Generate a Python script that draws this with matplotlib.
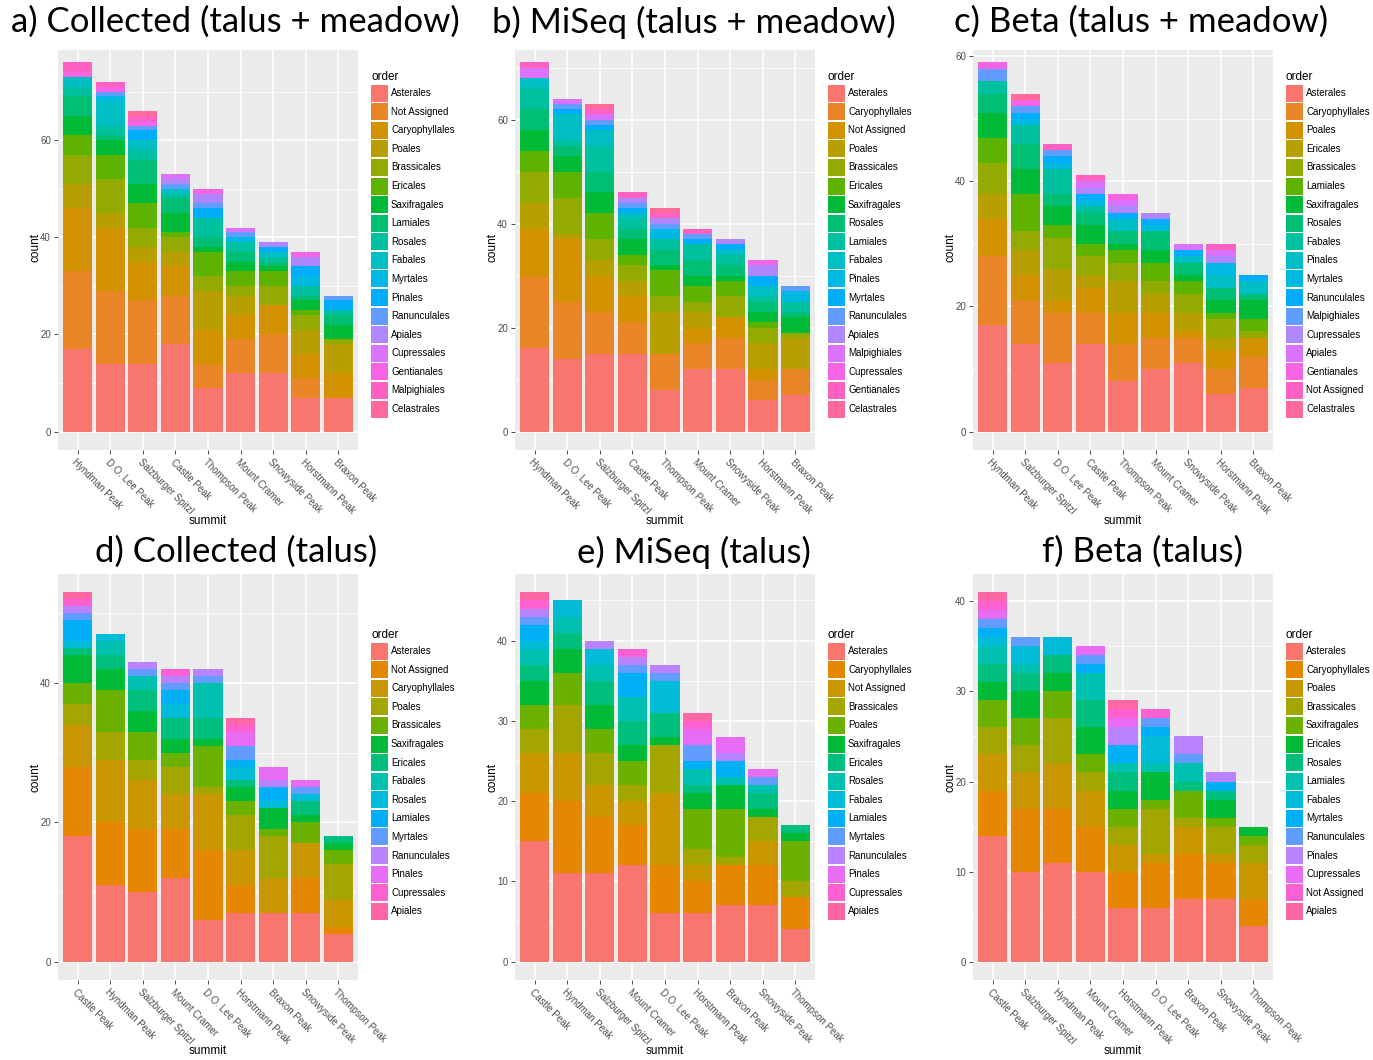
import numpy as np
import matplotlib
matplotlib.use("Agg")
import matplotlib.pyplot as plt
from matplotlib.patches import Patch, Rectangle
from matplotlib.ticker import MultipleLocator

plt.rcParams['font.family'] = ['Liberation Sans', 'DejaVu Sans']

# ---- data: counts per order (rows) for each summit (columns) ----
a_summits = ["Hyndman Peak", "D.O. Lee Peak", "Salzburger Spitzl", "Castle Peak", "Thompson Peak",
             "Mount Cramer", "Snowyside Peak", "Horstmann Peak", "Braxon Peak"]
a_orders = ["Asterales", "Not Assigned", "Caryophyllales", "Poales", "Brassicales", "Ericales",
            "Saxifragales", "Lamiales", "Rosales", "Fabales", "Myrtales", "Pinales", "Ranunculales",
            "Apiales", "Cupressales", "Gentianales", "Malpighiales", "Celastrales"]
a_counts = [[17, 14, 14, 18, 9, 12, 12, 7, 7],
            [16, 15, 13, 10, 5, 7, 8, 4, 0],
            [13, 13, 8, 6, 7, 5, 6, 5, 5],
            [5, 3, 3, 3, 8, 4, 0, 5, 6],
            [6, 7, 4, 3, 3, 2, 4, 3, 1],
            [4, 5, 5, 1, 5, 3, 3, 1, 0],
            [4, 3, 4, 4, 1, 2, 1, 2, 3],
            [4, 1, 5, 3, 2, 2, 1, 1, 2],
            [2, 2, 2, 1, 4, 2, 1, 2, 1],
            [2, 5, 2, 1, 0, 0, 1, 0, 0],
            [0, 1, 0, 0, 0, 1, 0, 2, 0],
            [0, 0, 2, 0, 2, 0, 1, 2, 2],
            [0, 1, 1, 1, 1, 1, 0, 0, 1],
            [0, 0, 0, 1, 2, 0, 1, 2, 0],
            [0, 0, 0, 1, 0, 1, 0, 0, 0],
            [1, 1, 1, 0, 1, 0, 0, 1, 0],
            [2, 1, 1, 0, 0, 0, 0, 0, 0],
            [0, 0, 1, 0, 0, 0, 0, 0, 0]]

b_summits = a_summits
b_orders = ["Asterales", "Caryophyllales", "Not Assigned", "Poales", "Brassicales", "Ericales",
            "Saxifragales", "Rosales", "Lamiales", "Fabales", "Pinales", "Myrtales", "Ranunculales",
            "Apiales", "Malpighiales", "Cupressales", "Gentianales", "Celastrales"]
b_counts = [[16, 14, 15, 15, 8, 12, 12, 6, 7],
            [14, 11, 8, 6, 7, 5, 6, 4, 5],
            [9, 12, 7, 5, 0, 3, 4, 2, 0],
            [5, 1, 3, 3, 8, 3, 0, 5, 6],
            [6, 7, 4, 3, 3, 2, 4, 3, 1],
            [4, 5, 5, 2, 5, 3, 3, 1, 0],
            [4, 3, 4, 3, 1, 2, 1, 2, 3],
            [4, 2, 4, 2, 3, 3, 2, 2, 1],
            [4, 1, 5, 2, 2, 3, 2, 1, 2],
            [2, 5, 3, 1, 0, 0, 1, 2, 0],
            [0, 0, 0, 0, 2, 0, 0, 0, 2],
            [0, 1, 1, 1, 0, 1, 1, 2, 0],
            [0, 1, 1, 1, 1, 1, 0, 0, 1],
            [0, 0, 0, 1, 1, 0, 1, 2, 0],
            [2, 1, 1, 0, 0, 0, 0, 0, 0],
            [0, 0, 0, 0, 0, 0, 0, 1, 0],
            [1, 0, 1, 1, 1, 1, 0, 0, 0],
            [0, 0, 1, 0, 1, 0, 0, 0, 0]]

c_summits = ["Hyndman Peak", "Salzburger Spitzl", "D.O. Lee Peak", "Castle Peak", "Thompson Peak",
             "Mount Cramer", "Snowyside Peak", "Horstmann Peak", "Braxon Peak"]
c_orders = ["Asterales", "Caryophyllales", "Poales", "Ericales", "Brassicales", "Lamiales",
            "Saxifragales", "Rosales", "Fabales", "Pinales", "Myrtales", "Ranunculales",
            "Malpighiales", "Cupressales", "Apiales", "Gentianales", "Not Assigned", "Celastrales"]
c_counts = [[17, 14, 11, 14, 8, 10, 11, 6, 7],
            [11, 7, 8, 5, 6, 5, 4, 4, 5],
            [6, 4, 2, 4, 5, 4, 1, 3, 3],
            [4, 4, 5, 2, 5, 3, 3, 2, 0],
            [5, 3, 5, 3, 3, 2, 3, 3, 1],
            [4, 6, 2, 2, 2, 3, 2, 1, 2],
            [4, 4, 3, 3, 1, 2, 1, 2, 3],
            [3, 4, 2, 2, 2, 3, 2, 2, 1],
            [2, 3, 4, 1, 0, 0, 0, 0, 0],
            [0, 0, 0, 0, 2, 0, 1, 2, 2],
            [0, 1, 1, 1, 0, 1, 0, 2, 0],
            [0, 1, 1, 1, 1, 1, 1, 0, 1],
            [2, 1, 1, 0, 0, 0, 0, 0, 0],
            [0, 0, 0, 1, 1, 1, 0, 1, 0],
            [0, 0, 0, 1, 1, 0, 1, 1, 0],
            [1, 1, 0, 0, 1, 0, 0, 0, 0],
            [0, 0, 1, 1, 0, 0, 0, 1, 0],
            [0, 1, 0, 0, 0, 0, 0, 0, 0]]

d_summits = ["Castle Peak", "Hyndman Peak", "Salzburger Spitzl", "Mount Cramer", "D.O. Lee Peak",
             "Horstmann Peak", "Braxon Peak", "Snowyside Peak", "Thompson Peak"]
d_orders = ["Asterales", "Not Assigned", "Caryophyllales", "Poales", "Brassicales", "Saxifragales",
            "Ericales", "Fabales", "Rosales", "Lamiales", "Myrtales", "Ranunculales", "Pinales",
            "Cupressales", "Apiales"]
d_counts = [[18, 11, 10, 12, 6, 7, 7, 7, 4],
            [10, 9, 9, 7, 10, 4, 0, 5, 1],
            [6, 9, 7, 5, 8, 5, 5, 5, 4],
            [3, 4, 3, 4, 1, 5, 6, 0, 5],
            [3, 6, 4, 2, 6, 2, 1, 3, 2],
            [4, 3, 3, 2, 1, 2, 3, 1, 1],
            [1, 2, 3, 3, 3, 1, 0, 2, 1],
            [0, 2, 2, 0, 5, 0, 0, 0, 0],
            [1, 1, 0, 2, 0, 2, 1, 1, 0],
            [3, 0, 0, 2, 0, 1, 2, 0, 0],
            [1, 0, 1, 1, 1, 2, 0, 1, 0],
            [1, 0, 1, 1, 1, 0, 1, 0, 0],
            [0, 0, 0, 0, 0, 2, 2, 1, 0],
            [1, 0, 0, 1, 0, 1, 0, 0, 0],
            [1, 0, 0, 0, 0, 1, 0, 0, 0]]

e_summits = d_summits
e_orders = ["Asterales", "Caryophyllales", "Not Assigned", "Brassicales", "Poales", "Saxifragales",
            "Ericales", "Rosales", "Fabales", "Lamiales", "Myrtales", "Ranunculales", "Pinales",
            "Cupressales", "Apiales"]
e_counts = [[15, 11, 11, 12, 6, 6, 7, 7, 4],
            [6, 9, 7, 5, 6, 4, 5, 5, 4],
            [5, 6, 4, 3, 9, 2, 0, 3, 0],
            [3, 6, 4, 2, 6, 2, 1, 3, 2],
            [3, 4, 3, 3, 0, 5, 6, 0, 5],
            [3, 3, 3, 2, 1, 2, 3, 1, 1],
            [2, 2, 3, 3, 3, 1, 0, 2, 1],
            [2, 2, 2, 3, 0, 2, 1, 1, 0],
            [1, 2, 2, 0, 4, 0, 0, 0, 0],
            [2, 0, 0, 3, 0, 1, 2, 0, 0],
            [1, 0, 0, 1, 1, 2, 0, 1, 0],
            [1, 0, 1, 1, 1, 0, 1, 0, 0],
            [0, 0, 0, 0, 0, 2, 2, 1, 0],
            [1, 0, 0, 1, 0, 1, 0, 0, 0],
            [1, 0, 0, 0, 0, 1, 0, 0, 0]]

f_summits = ["Castle Peak", "Salzburger Spitzl", "Hyndman Peak", "Mount Cramer", "Horstmann Peak",
             "D.O. Lee Peak", "Braxon Peak", "Snowyside Peak", "Thompson Peak"]
f_orders = ["Asterales", "Caryophyllales", "Poales", "Brassicales", "Saxifragales", "Ericales",
            "Rosales", "Lamiales", "Fabales", "Myrtales", "Ranunculales", "Pinales", "Cupressales",
            "Not Assigned", "Apiales"]
f_counts = [[14, 10, 11, 10, 6, 6, 7, 7, 4],
            [5, 7, 6, 5, 4, 5, 5, 4, 3],
            [4, 4, 5, 4, 3, 1, 3, 1, 4],
            [3, 3, 5, 2, 2, 5, 1, 3, 2],
            [3, 3, 3, 2, 2, 1, 3, 1, 1],
            [2, 3, 2, 3, 2, 3, 0, 2, 1],
            [2, 2, 2, 3, 2, 0, 1, 1, 0],
            [2, 1, 0, 3, 1, 1, 2, 0, 0],
            [1, 2, 2, 0, 0, 3, 0, 0, 0],
            [1, 0, 0, 1, 2, 1, 0, 1, 0],
            [1, 1, 0, 1, 0, 1, 1, 0, 0],
            [0, 0, 0, 0, 2, 0, 2, 1, 0],
            [1, 0, 0, 1, 1, 0, 0, 0, 0],
            [1, 0, 0, 0, 1, 1, 0, 0, 0],
            [1, 0, 0, 0, 1, 0, 0, 0, 0]]

titles = ["a) Collected (talus + meadow)", "b) MiSeq (talus + meadow)", "c) Beta (talus + meadow)",
          "d) Collected (talus)", "e) MiSeq (talus)", "f) Beta (talus)"]


def hue_pal(n, c=100, l=65):
    # ggplot2 default discrete palette (hcl, polar Luv -> sRGB)
    hues = np.linspace(15, 375, n + 1)[:-1]
    Xn, Yn, Zn = 95.047, 100.0, 108.883
    un = 4 * Xn / (Xn + 15 * Yn + 3 * Zn)
    vn = 9 * Yn / (Xn + 15 * Yn + 3 * Zn)
    M = np.array([[3.240479, -1.537150, -0.498535],
                  [-0.969256, 1.875992, 0.041556],
                  [0.055648, -0.204043, 1.057311]])
    out = []
    for h in hues:
        hr = np.deg2rad(h)
        u, v = c * np.cos(hr), c * np.sin(hr)
        Y = Yn * ((l + 16) / 116) ** 3
        up = u / (13 * l) + un
        vp = v / (13 * l) + vn
        X = 9 * Y * up / (4 * vp)
        Z = 3 * Y / vp - X / 3 - 5 * Y
        rgb = M @ (np.array([X, Y, Z]) / 100)
        rgb = np.where(rgb <= 0.0031308, 12.92 * rgb, 1.055 * np.abs(rgb) ** (1 / 2.4) - 0.055)
        out.append(tuple(np.clip(rgb, 0, 1)))
    return out


W, H = 1373, 1060
fig = plt.figure(figsize=(W / 100, H / 100), dpi=100)
fig.patch.set_facecolor("white")


def draw_panel(px_left, px_top, px_bottom, summits, orders, counts, major, minor, leg_x, leg_y):
    ax = fig.add_axes([px_left / W, 1 - px_bottom / H, 300 / W, (px_bottom - px_top) / H])
    ax.set_facecolor("#EBEBEB")
    cols = hue_pal(len(orders))
    x = np.arange(len(summits))
    bottom = np.zeros(len(summits))
    for i, row in enumerate(counts):
        row = np.array(row, dtype=float)
        ax.bar(x, row, width=0.9, bottom=bottom, color=cols[i], linewidth=0, zorder=3)
        bottom += row
    top = bottom.max()
    ax.set_ylim(-0.05 * top, 1.05 * top)
    ax.set_xlim(-0.6, len(summits) - 0.4)
    ax.yaxis.set_major_locator(MultipleLocator(major))
    ax.yaxis.set_minor_locator(MultipleLocator(minor))
    ax.set_xticks(x)
    ax.set_xticklabels(summits, rotation=-45, ha="left", va="top", rotation_mode="anchor")
    ax.grid(which="major", color="white", linewidth=1.1, zorder=0)
    ax.grid(which="minor", axis="y", color="white", linewidth=0.55, zorder=0)
    ax.set_axisbelow(True)
    for s in ax.spines.values():
        s.set_visible(False)
    ax.tick_params(axis="both", which="major", length=3, width=0.6, color="#333333",
                   labelsize=7, labelcolor="#4D4D4D", pad=2)
    ax.tick_params(axis="y", which="minor", length=0)
    ax.set_ylabel("count", fontsize=8.5)
    ax.yaxis.set_label_coords(-0.055, 0.5)
    ax.set_xlabel("summit", fontsize=8.5)
    ax.xaxis.set_label_coords(0.5, -0.16)
    handles = [Patch(facecolor=cols[i], edgecolor="none", label=o) for i, o in enumerate(orders)]
    ax.legend(handles=handles, title="order", loc="upper left",
              bbox_to_anchor=(leg_x / W, 1 - leg_y / H), bbox_transform=fig.transFigure,
              frameon=False, fontsize=7, title_fontsize=8.5, handlelength=1.75,
              handleheight=2.31, labelspacing=0.165, handletextpad=0.31, borderpad=0,
              borderaxespad=0, alignment="left")
    return ax


draw_panel(58, 44, 450, a_summits, a_orders, a_counts, 20, 10, 371, 71)
draw_panel(515, 44, 450, b_summits, b_orders, b_counts, 20, 10, 828, 71)
draw_panel(973, 44, 450, c_summits, c_orders, c_counts, 20, 10, 1286, 71)
draw_panel(58, 574, 980, d_summits, d_orders, d_counts, 20, 10, 371, 629)
draw_panel(515, 574, 980, e_summits, e_orders, e_counts, 10, 5, 828, 629)
draw_panel(973, 574, 980, f_summits, f_orders, f_counts, 10, 5, 1286, 629)

# the title strip of the top row hides the upper edge of the panels
fig.patches.append(Rectangle((0, 1 - 50 / H), 1, 50 / H, transform=fig.transFigure,
                             facecolor="white", edgecolor="none", zorder=5))

title_pos = [(235, 22), (694, 22), (1141, 22), (236, 552), (694, 552), (1142, 552)]
for t, (tx, ty) in zip(titles, title_pos):
    fig.text(tx / W, 1 - ty / H, t, ha="center", va="center", fontsize=25, family="Lato",
             color="black", zorder=10)

fig.savefig("out.png", dpi=100)
